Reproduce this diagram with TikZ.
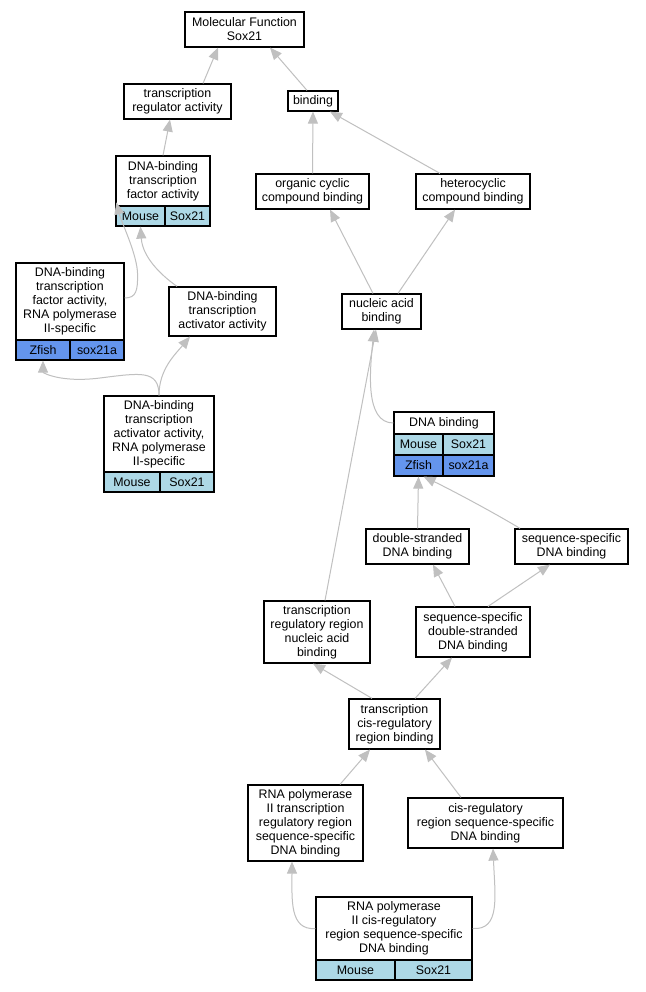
\documentclass[tikz,border=0pt]{standalone}
\usepackage{fontspec}
\setmainfont{Liberation Sans}
\usetikzlibrary{arrows.meta}
\definecolor{lb}{HTML}{ADD8E6}
\definecolor{cb}{HTML}{6495ED}
\definecolor{edgec}{HTML}{C0C0C0}
\begin{document}
\begin{tikzpicture}[x=1pt,y=-1pt,
  box/.style={draw, line width=1.2pt, fill=white, align=center, inner sep=0pt, font=\fontsize{12.4}{14}\selectfont},
  cell/.style={draw, line width=1.2pt, inner sep=0pt, minimum height=20pt, font=\fontsize{12.4}{14}\selectfont},
  edge/.style={draw=edgec, line width=1pt, -{Triangle[length=12pt,width=10pt,fill=edgec]}}]
\useasboundingbox (0,0) rectangle (645,992);
\fill[white] (0,0) rectangle (645,992);

% nodes
\node[box, minimum width=119pt, minimum height=35pt] (MF) at (244.5,29.5) {Molecular Function\\Sox21};
\node[box, minimum width=107pt, minimum height=35pt] (TRA) at (177.5,101.5) {transcription\\regulator activity};
\node[box, minimum width=50pt, minimum height=20pt] (BIND) at (313,101) {binding};

\node[box, minimum width=94pt, minimum height=50pt] (DBTFA) at (163,181) {DNA-binding\\transcription\\factor activity};
\node[cell, fill=lb, minimum width=49pt] (DBTFAm) at (140.5,216) {Mouse};
\node[cell, fill=lb, minimum width=45pt] (DBTFAs) at (187.5,216) {Sox21};

\node[box, minimum width=113pt, minimum height=35pt] (OCCB) at (312.5,191.5) {organic cyclic\\compound binding};
\node[box, minimum width=114pt, minimum height=35pt] (HCB) at (473,191.5) {heterocyclic\\compound binding};

\node[box, minimum width=108pt, minimum height=77pt] (DBTFAR) at (70,301.5) {DNA-binding\\transcription\\factor activity,\\RNA polymerase\\II-specific};
\node[cell, fill=cb, minimum width=54pt] (DBTFARz) at (43,350) {Zfish};
\node[cell, fill=cb, minimum width=54pt] (DBTFARs) at (97,350) {sox21a};

\node[box, minimum width=107pt, minimum height=49pt] (DBTAA) at (222.5,311.5) {DNA-binding\\transcription\\activator activity};
\node[box, minimum width=79pt, minimum height=35pt] (NAB) at (381.5,311.5) {nucleic acid\\binding};

\node[box, minimum width=110pt, minimum height=76pt] (DBTAAR) at (159,434) {DNA-binding\\transcription\\activator activity,\\RNA polymerase\\II-specific};
\node[cell, fill=lb, minimum width=56pt] (DBTAARm) at (132,482) {Mouse};
\node[cell, fill=lb, minimum width=54pt] (DBTAARs) at (187,482) {Sox21};

\node[box, minimum width=100pt, minimum height=22pt] (DNAB) at (444,423) {DNA binding};
\node[cell, fill=lb, minimum width=49pt, minimum height=21pt] (DNABm) at (418.5,444.5) {Mouse};
\node[cell, fill=lb, minimum width=51pt, minimum height=21pt] (DNABs) at (468.5,444.5) {Sox21};
\node[cell, fill=cb, minimum width=49pt, minimum height=21pt] (DNABz) at (418.5,465.5) {Zfish};
\node[cell, fill=cb, minimum width=51pt, minimum height=21pt] (DNABa) at (468.5,465.5) {sox21a};

\node[box, minimum width=103pt, minimum height=35pt] (DSDB) at (417.5,546.5) {double-stranded\\DNA binding};
\node[box, minimum width=113pt, minimum height=35pt] (SSDB) at (571.5,546.5) {sequence-specific\\DNA binding};

\node[box, minimum width=106pt, minimum height=62pt] (TRRNAB) at (317,632) {transcription\\regulatory region\\nucleic acid\\binding};
\node[box, minimum width=114pt, minimum height=50pt] (SSDSDB) at (473,632) {sequence-specific\\double-stranded\\DNA binding};

\node[box, minimum width=91pt, minimum height=50pt] (TCRB) at (394.5,724) {transcription\\cis-regulatory\\region binding};

\node[box, minimum width=115pt, minimum height=76pt] (RNAP2) at (305.5,823) {RNA polymerase\\II transcription\\regulatory region\\sequence-specific\\DNA binding};
\node[box, minimum width=155pt, minimum height=50pt] (CRSSDB) at (485.5,823) {cis-regulatory\\region sequence-specific\\DNA binding};

\node[box, minimum width=156pt, minimum height=63pt] (RNAP2CR) at (394,928.5) {RNA polymerase\\II cis-regulatory\\region sequence-specific\\DNA binding};
\node[cell, fill=lb, minimum width=79pt] (RNAP2CRm) at (355.5,970) {Mouse};
\node[cell, fill=lb, minimum width=77pt] (RNAP2CRs) at (433.5,970) {Sox21};

% edges
\path[edge] ([xshift=25.5pt]TRA.north) -- ([xshift=-26.5pt]MF.south);
\path[edge] ([xshift=-6pt]BIND.north) -- ([xshift=25.5pt]MF.south);
\path[edge] (DBTFA.north) -- ([xshift=-7.5pt]TRA.south);
\path[edge] (OCCB.north) -- (BIND.south);
\path[edge] ([xshift=-33pt]HCB.north) -- ([xshift=17pt]BIND.south);
\path[edge] ([yshift=3.5pt]DBTFAR.east) .. controls +(12,0) and +(0,15) .. ++(13,-23) .. controls +(0,-20) and +(5,20) .. ([shift={(1,-3)}]DBTFAm.north west);
\path[edge] ([xshift=-45.5pt]DBTAA.north) .. controls +(-17,-12) and +(2,30) .. (DBTFAm.south);
\path[edge] (DBTAAR.north) .. controls +(0,-26) and +(40,-5) .. (100,378) .. controls +(-40,5) and +(0,12) .. (DBTFARz.south);
\path[edge] (DBTAAR.north) .. controls +(0,-26) and +(-15,18) .. ([xshift=-32.5pt]DBTAA.south);
\path[edge] ([xshift=-8.5pt]NAB.north) -- ([xshift=17.5pt]OCCB.south);
\path[edge] ([xshift=16.5pt]NAB.north) -- ([xshift=-18pt]HCB.south);
\path[edge] (DNAB.west) .. controls +(-29,0) and +(-4,40) .. ([xshift=-7.5pt]NAB.south);
\path[edge] ([xshift=8pt]TRRNAB.north) -- ([xshift=-5.5pt]NAB.south);
\path[edge] (DSDB.north) -- (DNABz.south);
\path[edge] ([xshift=-51.5pt]SSDB.north) .. controls +(-30,-18) and +(25,12) .. ([xshift=-20pt]DNABz.south east);
\path[edge] ([xshift=-18pt]SSDSDB.north) -- ([xshift=15.5pt]DSDB.south);
\path[edge] ([xshift=15pt]SSDSDB.north) -- ([xshift=-21.5pt]SSDB.south);
\path[edge] ([xshift=-22.5pt]TCRB.north) -- ([xshift=-4pt]TRRNAB.south);
\path[edge] ([xshift=20.5pt]TCRB.north) -- ([xshift=-21pt]SSDSDB.south);
\path[edge] ([xshift=34.5pt]RNAP2.north) -- ([xshift=-24.5pt]TCRB.south);
\path[edge] ([xshift=-24.5pt]CRSSDB.north) -- ([xshift=30.5pt]TCRB.south);
\path[edge] (RNAP2CR.west) .. controls +(-26,2) and +(0,38) .. ([xshift=-13.5pt]RNAP2.south);
\path[edge] (RNAP2CR.east) .. controls +(28,2) and +(2,48) .. ([xshift=7.5pt]CRSSDB.south);
\end{tikzpicture}
\end{document}
